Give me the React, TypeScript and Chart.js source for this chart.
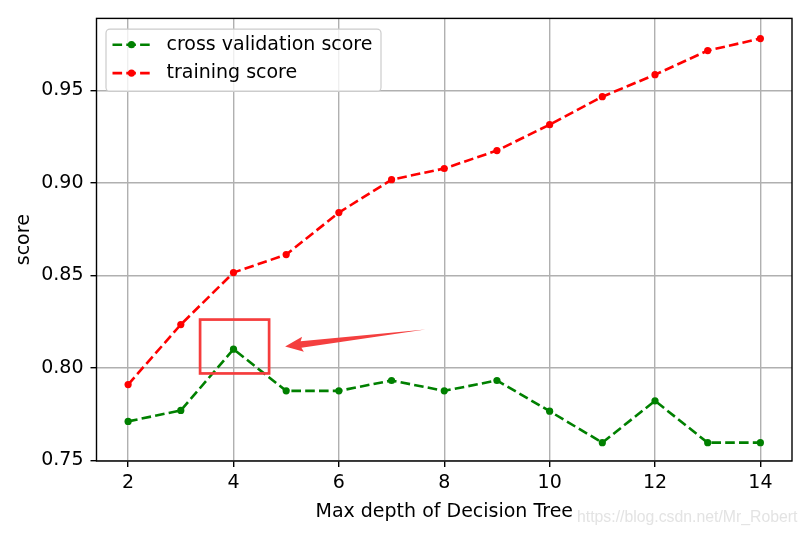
import React, { useEffect, useRef } from "react";
import { Chart, registerables } from "chart.js";
Chart.register(...registerables);

const depths = [2, 3, 4, 5, 6, 7, 8, 9, 10, 11, 12, 13, 14];
const cvScores = [0.7711, 0.777, 0.8101, 0.7876, 0.7876, 0.7932, 0.7876, 0.7932, 0.7766, 0.7596, 0.7822, 0.7596, 0.7596];
const trainScores = [0.791, 0.8234, 0.8515, 0.8612, 0.8839, 0.9017, 0.9077, 0.9174, 0.9314, 0.9465, 0.9584, 0.9714, 0.9779];
const xTicks = [2, 4, 6, 8, 10, 12, 14];
const yTicks = [0.75, 0.8, 0.85, 0.9, 0.95];
const seriesLabels = ["cross validation score", "training score"];
const seriesColors = ["#008000", "#ff0000"];
const xTitle = "Max depth of Decision Tree";
const yTitle = "score";
const watermark = "https://blog.csdn.net/Mr_Robert";
// annotation (data coordinates)
const boxX = [3.366, 4.676];
const boxY = [0.797, 0.8261];
const arrowTail = [7.64, 0.8207];
const arrowHead = [4.98, 0.8116];

const FONT = "'DejaVu Sans', sans-serif";
const FS = 19;

export default function App() {
  const ref = useRef<HTMLCanvasElement | null>(null);
  useEffect(() => {
    if (!ref.current) return;
    const dash = [9.6, 4.2];
    const decor = {
      id: "decor",
      afterDatasetsDraw(chart: any) {
        const { ctx, chartArea: a } = chart;
        ctx.save();
        ctx.strokeStyle = "#000";
        ctx.lineWidth = 1.4;
        ctx.strokeRect(a.left, a.top, a.right - a.left, a.bottom - a.top);
        ctx.restore();
      },
      afterDraw(chart: any) {
        const { ctx, chartArea: a, scales } = chart;
        const xs = scales.x, ys = scales.y;
        // legend
        ctx.save();
        const lx = a.left + 9.5, ly = a.top + 10.7, lw = 275, lh = 62.3;
        ctx.beginPath();
        (ctx as any).roundRect(lx, ly, lw, lh, 4);
        ctx.fillStyle = "rgba(255,255,255,0.8)";
        ctx.fill();
        ctx.strokeStyle = "#cccccc";
        ctx.lineWidth = 1.2;
        ctx.stroke();
        const rows = [ly + 15.6, ly + 44];
        seriesLabels.forEach((lab, i) => {
          const y = rows[i];
          ctx.strokeStyle = seriesColors[i];
          ctx.lineWidth = 2.6;
          ctx.setLineDash(dash);
          ctx.beginPath();
          ctx.moveTo(lx + 6.5, y);
          ctx.lineTo(lx + 45, y);
          ctx.stroke();
          ctx.setLineDash([]);
          ctx.fillStyle = seriesColors[i];
          ctx.beginPath();
          ctx.arc(lx + 25.5, y, 3.6, 0, Math.PI * 2);
          ctx.fill();
          ctx.fillStyle = "#000";
          ctx.font = `${FS}px ${FONT}`;
          ctx.textBaseline = "middle";
          ctx.textAlign = "left";
          ctx.fillText(lab, lx + 60.5, y);
        });
        ctx.restore();

        // annotation box
        ctx.save();
        const bx0 = xs.getPixelForValue(boxX[0]), bx1 = xs.getPixelForValue(boxX[1]);
        const by0 = ys.getPixelForValue(boxY[1]), by1 = ys.getPixelForValue(boxY[0]);
        ctx.strokeStyle = "#f53d3d";
        ctx.lineWidth = 2.7;
        ctx.strokeRect(bx0, by0, bx1 - bx0, by1 - by0);
        // arrow
        const tx = xs.getPixelForValue(arrowTail[0]), ty = ys.getPixelForValue(arrowTail[1]);
        const hx = xs.getPixelForValue(arrowHead[0]), hy = ys.getPixelForValue(arrowHead[1]);
        const L = Math.hypot(hx - tx, hy - ty);
        const ux = (hx - tx) / L, uy = (hy - ty) / L;
        const nx = -uy, ny = ux;
        const hl = 17, hw = 7.6, sw = 3.2;
        const bxp = hx - ux * hl, byp = hy - uy * hl;
        ctx.fillStyle = "#f43f3f";
        ctx.beginPath();
        ctx.moveTo(hx, hy);
        ctx.lineTo(bxp + nx * hw - ux * 1, byp + ny * hw - uy * 1);
        ctx.lineTo(bxp + nx * sw + ux * 1, byp + ny * sw + uy * 1);
        ctx.lineTo(tx, ty);
        ctx.lineTo(bxp - nx * sw + ux * 1, byp - ny * sw + uy * 1);
        ctx.lineTo(bxp - nx * hw - ux * 1, byp - ny * hw - uy * 1);
        ctx.closePath();
        ctx.fill();
        ctx.restore();

        // watermark
        ctx.save();
        ctx.font = "15.8px 'Liberation Sans', Arial, sans-serif";
        ctx.fillStyle = "rgba(200,200,200,0.5)";
        ctx.textAlign = "left";
        ctx.textBaseline = "alphabetic";
        ctx.fillText(watermark, 577, 522);
        ctx.restore();
      },
    };

    const chart = new Chart(ref.current, {
      type: "line",
      data: {
        datasets: [cvScores, trainScores].map((vals, i) => ({
          label: seriesLabels[i],
          data: depths.map((d, j) => ({ x: d, y: vals[j] })),
          borderColor: seriesColors[i],
          backgroundColor: seriesColors[i],
          borderWidth: 2.6,
          borderDash: dash,
          pointRadius: 3.6,
          pointBorderWidth: 0,
          pointBackgroundColor: seriesColors[i],
          fill: false,
          tension: 0,
        })),
      },
      options: {
        responsive: false,
        animation: false,
        events: [],
        layout: { padding: { top: 17, right: 14, left: 0, bottom: 0 } },
        plugins: { legend: { display: false }, tooltip: { enabled: false } },
        scales: {
          x: {
            type: "linear",
            min: 1.4,
            max: 14.6,
            afterBuildTicks: (s: any) => {
              s.ticks = xTicks.map((v) => ({ value: v }));
            },
            afterFit: (s: any) => {
              s.height = 73;
            },
            grid: { color: "#b0b0b0", lineWidth: 1.4, tickColor: "#000", tickLength: 6, drawTicks: true },
            border: { display: false },
            ticks: {
              color: "#000",
              font: { family: FONT, size: FS },
              padding: 5,
              maxRotation: 0,
              autoSkip: false,
              callback: (v: any) => String(v),
            },
            title: { display: true, text: xTitle, color: "#000", font: { family: FONT, size: FS }, padding: { top: 0, bottom: 11 } },
          },
          y: {
            type: "linear",
            min: 0.7497,
            max: 0.9888,
            afterBuildTicks: (s: any) => {
              s.ticks = yTicks.map((v) => ({ value: v }));
            },
            afterFit: (s: any) => {
              s.width = 96.5;
            },
            grid: { color: "#b0b0b0", lineWidth: 1.4, tickColor: "#000", tickLength: 6, drawTicks: true },
            border: { display: false },
            ticks: {
              color: "#000",
              font: { family: FONT, size: FS },
              padding: 7,
              autoSkip: false,
              callback: (v: any) => Number(v).toFixed(2),
            },
            title: { display: true, text: yTitle, color: "#000", font: { family: FONT, size: FS }, padding: { top: 13, bottom: 0 } },
          },
        },
      },
      plugins: [decor],
    } as any);
    return () => chart.destroy();
  }, []);
  return (
    <div style={{ position: "absolute", left: 0, top: 0, width: 806, height: 534 }}>
      <canvas ref={ref} width={806} height={534} style={{ display: "block" }} />
    </div>
  );
}
